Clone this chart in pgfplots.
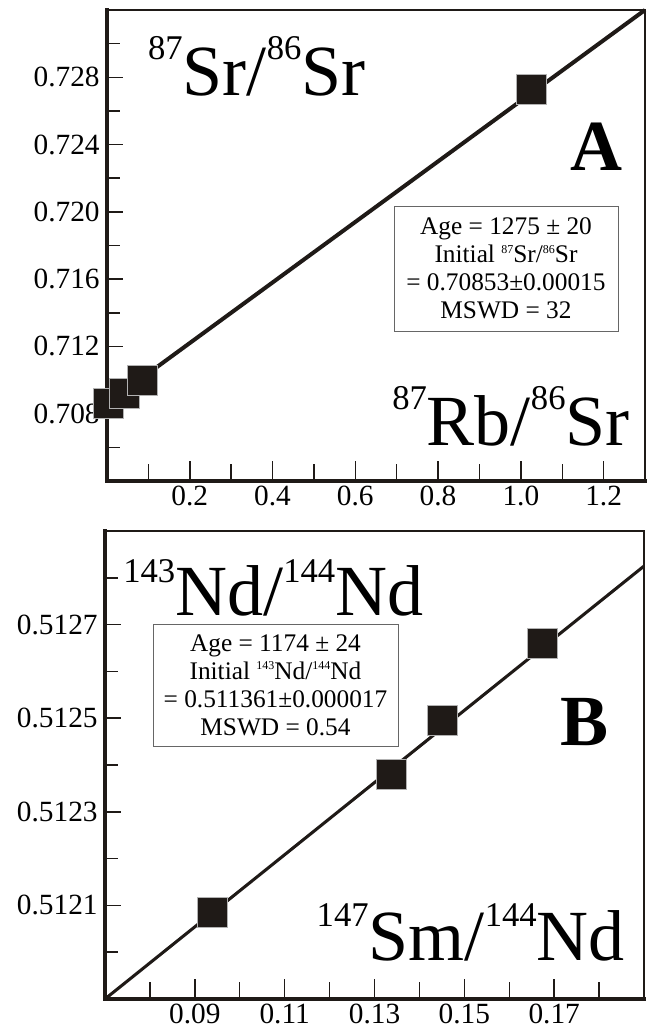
\documentclass[border=0pt]{standalone}
\usepackage{pgfplots}
\pgfplotsset{compat=1.18}
\usepackage{fontspec}
\setmainfont{Liberation Serif}
\definecolor{ink}{RGB}{31,26,23}
\newcommand{\isosup}[2][27pt]{\raisebox{#1}{\fontsize{26}{26}\selectfont #2}}
\newcommand{\smallsup}[1]{\raisebox{7pt}{\fontsize{9}{9}\selectfont #1}}
\pgfplotsset{
  rb/.style={
    scale only axis, clip=false,
    axis line style={ink, line width=1.4pt},
    tick align=inside,
    xtick pos=bottom, ytick pos=left,
    major tick length=12pt, minor tick length=10pt,
    xtick style={/pgfplots/major tick length=15pt, /pgfplots/minor tick length=12.8pt},
    tick style={ink, line width=1.1pt},
    scaled ticks=false,
    ticklabel style={font=\fontsize{22}{22}\selectfont},
    xticklabel style={/pgf/number format/assume math mode=true},
    yticklabel style={/pgf/number format/assume math mode=true, xshift=-2pt},
  },
  sq/.style={only marks, mark=square*, mark size=11.25pt, mark options={fill=ink, draw=gray!60, line width=0.5pt}},
}
\begin{document}
\begin{tikzpicture}
\path[use as bounding box] (0,0) rectangle (489pt,775.5pt);
% ---------------- Panel A
\begin{axis}[rb,
  at={(80.25pt,414.75pt)}, anchor=south west,
  width=403.5pt, height=353.25pt,
  xmin=0, xmax=1.3, ymin=0.704, ymax=0.732,
  xtick={0.2,0.4,0.6,0.8,1.0,1.2},
  minor xtick={0.1,0.3,0.5,0.7,0.9,1.1},
  ytick={0.708,0.712,0.716,0.720,0.724,0.728},
  minor ytick={0.706,0.710,0.714,0.718,0.722,0.726,0.730},
  xticklabel style={/pgf/number format/fixed, /pgf/number format/fixed zerofill, /pgf/number format/precision=1},
  yticklabel style={/pgf/number format/fixed, /pgf/number format/fixed zerofill, /pgf/number format/precision=3},
]
\draw[ink, line width=2.6pt, line cap=rect] (rel axis cs:0,1) -- (rel axis cs:0,0) -- (rel axis cs:1,0);
\addplot[ink, line width=3pt] coordinates {(0,0.7086) (1.3,0.732)};
\addplot[sq] coordinates {(0.004,0.7086) (0.042,0.7092) (0.086,0.7100) (1.025,0.7273)};
\node[anchor=base west, inner sep=0pt, font=\fontsize{54}{54}\selectfont] at (rel axis cs:0.076,0.8195) {\isosup{87}Sr/\isosup{86}Sr};
\node[anchor=base east, inner sep=0pt, font=\fontsize{54}{54}\selectfont\bfseries] at (rel axis cs:0.959,0.660) {A};
\node[anchor=base east, inner sep=0pt, font=\fontsize{54}{54}\selectfont] at (rel axis cs:0.972,0.0764) {\isosup{87}Rb/\isosup{86}Sr};
\node[draw=gray!80!black, line width=0.6pt, fill=white, align=center, minimum width=168pt, minimum height=93.75pt, inner sep=0pt, font=\fontsize{19}{21}\selectfont] at (rel axis cs:0.7416,0.4512)
  {Age = 1275 ± 20\\Initial \smallsup{87}Sr/\smallsup{86}Sr\\= 0.70853±0.00015\\MSWD = 32};
\end{axis}
% ---------------- Panel B
\begin{axis}[rb,
  at={(78.75pt,26.25pt)}, anchor=south west,
  width=404.25pt, height=351pt,
  xmin=0.07, xmax=0.19, ymin=0.5119, ymax=0.5129,
  xtick={0.09,0.11,0.13,0.15,0.17},
  minor xtick={0.08,0.10,0.12,0.14,0.16,0.18},
  ytick={0.5121,0.5123,0.5125,0.5127},
  minor ytick={0.5120,0.5122,0.5124,0.5126,0.5128},
  xticklabel style={/pgf/number format/fixed, /pgf/number format/fixed zerofill, /pgf/number format/precision=2},
  yticklabel style={/pgf/number format/fixed, /pgf/number format/fixed zerofill, /pgf/number format/precision=4},
]
\draw[ink, line width=2.6pt, line cap=rect] (rel axis cs:0,1) -- (rel axis cs:0,0) -- (rel axis cs:1,0);
\addplot[ink, line width=2.3pt] coordinates {(0.07,0.5119) (0.19,0.512825)};
\addplot[sq] coordinates {(0.094,0.512085) (0.1337,0.51238) (0.1452,0.512496) (0.1673,0.51266)};
\node[anchor=base west, inner sep=0pt, font=\fontsize{54}{54}\selectfont] at (rel axis cs:0.0334,0.8184) {\isosup[25pt]{143}Nd/\isosup[25pt]{144}Nd};
\node[anchor=base east, inner sep=0pt, font=\fontsize{54}{54}\selectfont\bfseries] at (rel axis cs:0.935,0.5427) {B};
\node[anchor=base east, inner sep=0pt, font=\fontsize{54}{54}\selectfont] at (rel axis cs:0.9648,0.0833) {\isosup[25pt]{147}Sm/\isosup[25pt]{144}Nd};
\node[draw=gray!80!black, line width=0.6pt, fill=white, align=center, minimum width=183.75pt, minimum height=91.5pt, inner sep=0pt, font=\fontsize{19}{21}\selectfont] at (rel axis cs:0.3163,0.671)
  {Age = 1174 ± 24\\Initial \smallsup{143}Nd/\smallsup{144}Nd\\= 0.511361±0.000017\\MSWD = 0.54};
\end{axis}
\end{tikzpicture}
\end{document}
